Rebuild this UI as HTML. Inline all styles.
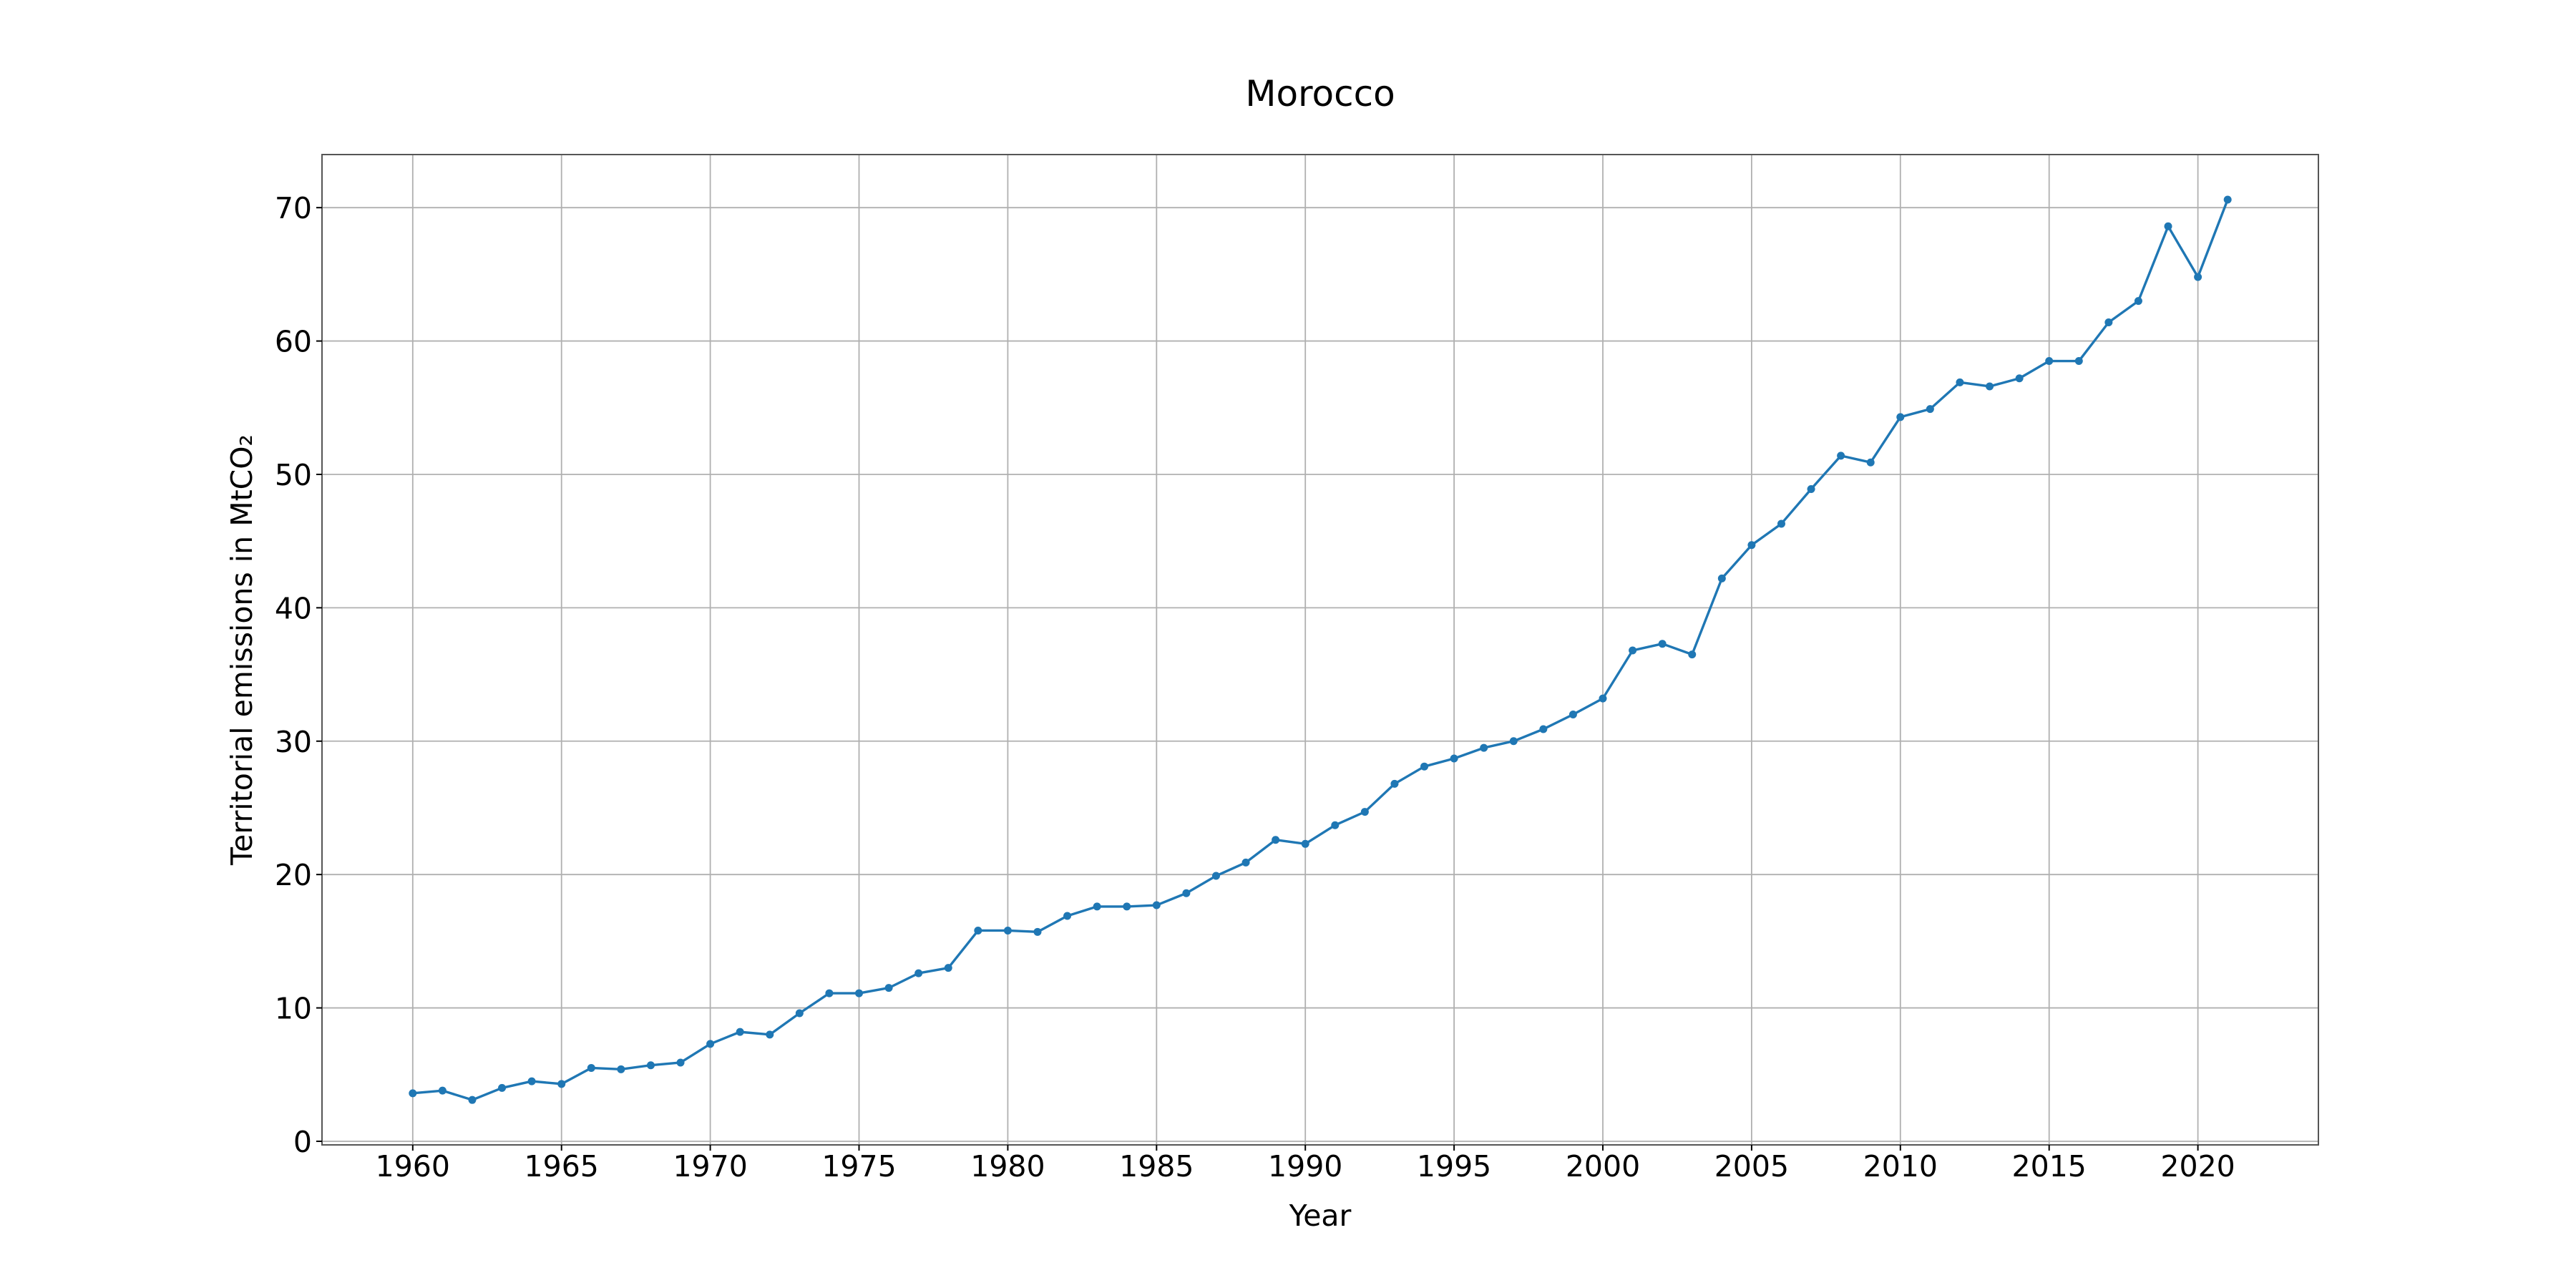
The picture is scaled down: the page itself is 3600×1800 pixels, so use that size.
<!DOCTYPE html>
<html><head><meta charset="utf-8"><style>
html,body{margin:0;padding:0;background:#fff}
svg{display:block;font-family:"DejaVu Sans","Liberation Sans",sans-serif}
</style></head><body>
<svg id="chart" width="3600" height="1800" viewBox="0 0 3600 1800" xmlns="http://www.w3.org/2000/svg">
<rect width="3600" height="1800" fill="#fff"/>
<text x="1845" y="148" font-size="50" text-anchor="middle" fill="#000">Morocco</text>
<g id="grid"></g>
<g id="series"></g>
<rect x="450" y="216" width="2790" height="1384" fill="none" stroke="#555" stroke-width="2"/>
<g id="xticks"></g>
<g id="yticks"></g>
<text x="1845" y="1713" font-size="41" text-anchor="middle" fill="#000">Year</text>
<text x="0" y="0" font-size="41" text-anchor="middle" fill="#000" transform="translate(352,908) rotate(-90)">Territorial emissions in MtCO₂</text>
</svg>
<script>
const years = [];
for (let y = 1960; y <= 2021; y++) years.push(y);
const emissions = [3.6,3.8,3.1,4.0,4.5,4.3,5.5,5.4,5.7,5.9,7.3,8.2,8.0,9.6,11.1,11.1,11.5,12.6,13.0,15.8,15.8,15.7,16.9,17.6,17.6,17.7,18.6,19.9,20.9,22.6,22.3,23.7,24.7,26.8,28.1,28.7,29.5,30.0,30.9,32.0,33.2,36.8,37.3,36.5,42.2,44.7,46.3,48.9,51.4,50.9,54.3,54.9,56.9,56.6,57.2,58.5,58.5,61.4,63.0,68.6,64.8,70.6];
const xTickValues = [1960,1965,1970,1975,1980,1985,1990,1995,2000,2005,2010,2015,2020];
const yTickValues = [0,10,20,30,40,50,60,70];

const L=450,R=3240,T=216,B=1600;
const xmin=1956.95,xmax=2024.05,ymin=-0.27,ymax=73.98;
const sx=v=>L+(v-xmin)/(xmax-xmin)*(R-L);
const sy=v=>B-(v-ymin)/(ymax-ymin)*(B-T);
const NS="http://www.w3.org/2000/svg";
function mk(tag,attrs,parent){const e=document.createElementNS(NS,tag);for(const k in attrs)e.setAttribute(k,attrs[k]);parent.appendChild(e);return e;}
const grid=document.getElementById('grid'),xt=document.getElementById('xticks'),yt=document.getElementById('yticks'),ser=document.getElementById('series');
xTickValues.forEach(v=>{
  const x=sx(v);
  const g=mk('line',{x1:x,x2:x,y1:T,y2:B,stroke:'#b0b0b0','stroke-width':1.8},grid);
  
  
  const t=mk('line',{x1:x,x2:x,y1:B,y2:B+8,stroke:'#000','stroke-width':2},xt);
  
  
  const l=mk('text',{x:x,y:1644,'font-size':41,'text-anchor':'middle',fill:'#000'},xt);
  l.textContent=v;
  
  
});
yTickValues.forEach(v=>{
  const y=sy(v);
  const g=mk('line',{x1:L,x2:R,y1:y,y2:y,stroke:'#b0b0b0','stroke-width':1.8},grid);
  
  
  const t=mk('line',{x1:L-8,x2:L,y1:y,y2:y,stroke:'#000','stroke-width':2},yt);
  
  
  const l=mk('text',{x:L-14,y:y+15,'font-size':41,'text-anchor':'end',fill:'#000'},yt);
  l.textContent=v;
  
  
});
const pts=years.map((y,i)=>sx(y)+','+sy(emissions[i])).join(' ');
const line=mk('polyline',{points:pts,fill:'none',stroke:'#1f77b4','stroke-width':3.4,'stroke-linejoin':'round'},ser);


years.forEach((y,i)=>{
  const c=mk('circle',{cx:sx(y),cy:sy(emissions[i]),r:5.5,fill:'#1f77b4'},ser);
  
  
});
</script>
</body></html>
